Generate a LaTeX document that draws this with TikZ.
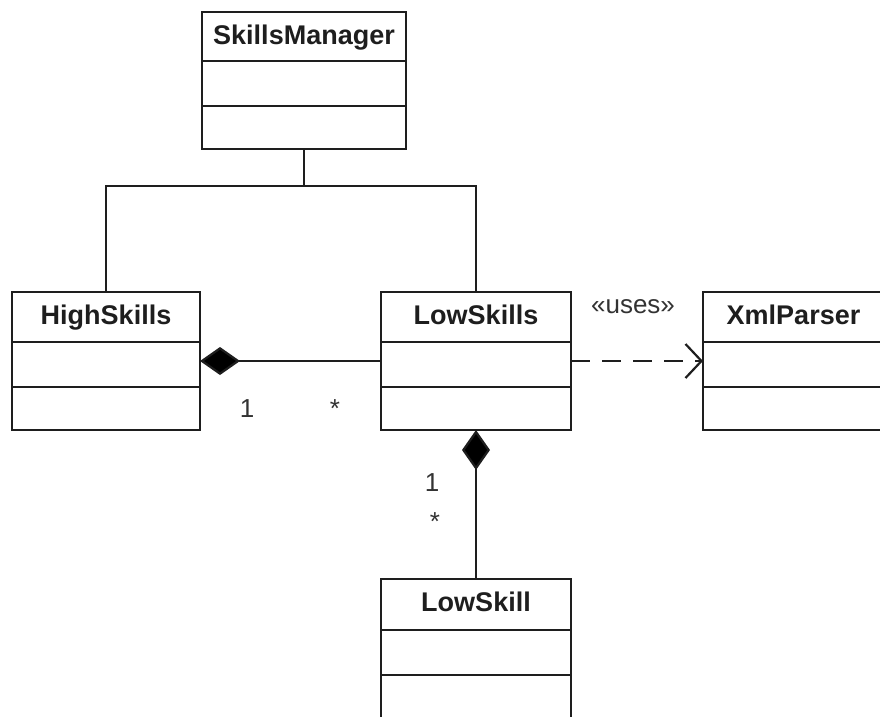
\documentclass[tikz,border=0pt]{standalone}
\usepackage{fontspec}
\setmainfont{Liberation Sans}
\usetikzlibrary{arrows.meta}

\definecolor{ink}{HTML}{1E1E1E}
\definecolor{labelink}{HTML}{333333}

% \umlclass{name}{left}{right}{top}{divider 1}{divider 2}{bottom}{title}
\newcommand\umlclass[8]{%
  \node[classbox, minimum width={(#3-#2)*1pt}, minimum height={(#7-#4)*1pt}]
    (#1) at ({(#2+#3)/2},{(#4+#7)/2}) {};
  \draw[classline] (#2,#5) -- (#3,#5);
  \draw[classline] (#2,#6) -- (#3,#6);
  \node[classtitle] (#1-title) at ({(#2+#3)/2},{#4+32}) {#8};
}

\begin{document}
\begin{tikzpicture}[x=1pt,y=-1pt,
  classbox/.style={draw=ink, line width=1.9pt, rectangle, inner sep=0pt, outer sep=0pt, fill=white},
  classline/.style={draw=ink, line width=1.9pt},
  classtitle/.style={anchor=base, inner sep=0pt, text=ink,
    font=\fontsize{27}{31}\selectfont\bfseries},
  assocline/.style={draw=ink, line width=2.2pt},
  mult/.style={anchor=base, inner sep=0pt, text=labelink,
    font=\fontsize{26}{30}\selectfont},
  composition/.style={-{Diamond[length=40pt,width=28pt,fill=black]}},
  dependency/.style={dash pattern=on 19pt off 12pt,
    -{Straight Barb[length=16pt,width=34pt,line width=2.2pt]}}
]
  \fill[white] (0,0) rectangle (880,716);
  \useasboundingbox (0,0) rectangle (880,716);

  % classes
  \umlclass{sm}{202}{406}{12}{61}{106}{149}{SkillsManager}
  \umlclass{hs}{12}{200}{292}{342}{387}{430}{HighSkills}
  \umlclass{ls}{381}{571}{292}{342}{387}{430}{LowSkills}
  \umlclass{xp}{703}{884}{292}{342}{387}{430}{XmlParser}
  \umlclass{lsk}{381}{571}{579}{630}{675}{722}{LowSkill}

  % generalisation fork from SkillsManager
  \coordinate (fork) at (304,186);
  \draw[assocline] (sm.south) -- (fork);
  \draw[assocline] (hs.north) |- (fork) -| (ls.north);

  % compositions
  \draw[assocline, composition] (ls.west) -- (hs.east);
  \draw[assocline, composition] (lsk.north) -- (ls.south);

  % dependency
  \draw[assocline, dependency] (ls.east) -- (xp.west);
  \node[mult] (uses) at (633,313) {«uses»};

  % multiplicities
  \node[mult] (m1) at (247,417) {1};
  \node[mult] (m2) at (335,417) {*};
  \node[mult] (m3) at (432,491) {1};
  \node[mult] (m4) at (435,530) {*};
\end{tikzpicture}
\end{document}
